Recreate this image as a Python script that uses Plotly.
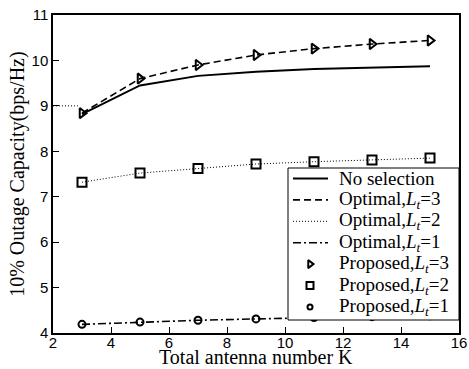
import plotly.graph_objects as go

K = [3, 5, 7, 9, 11, 13, 15]
no_selection = [8.82, 9.45, 9.66, 9.75, 9.81, 9.84, 9.87]
optimal_l3 = [8.84, 9.60, 9.90, 10.12, 10.26, 10.36, 10.44]
optimal_l2 = [7.32, 7.52, 7.62, 7.72, 7.77, 7.81, 7.85]
optimal_l1 = [4.19, 4.24, 4.28, 4.31, 4.34, 4.36, 4.38]
proposed_l3 = [8.84, 9.60, 9.90, 10.12, 10.26, 10.36, 10.44]
proposed_l2 = [7.32, 7.52, 7.62, 7.72, 7.77, 7.81, 7.85]
proposed_l1 = [4.19, 4.24, 4.28, 4.31, 4.34, 4.36, 4.38]
x_ticks = [2, 4, 6, 8, 10, 12, 14, 16]
y_ticks = [4, 5, 6, 7, 8, 9, 10, 11]
stray_x = [2, 2.92]
stray_y = [9, 9]
x_title = "Total antenna number K"
y_title = "10% Outage Capacity(bps/Hz)"
legend_labels = [
    "No selection",
    "Optimal,<i>L</i><sub><i>t</i></sub>=3",
    "Optimal,<i>L</i><sub><i>t</i></sub>=2",
    "Optimal,<i>L</i><sub><i>t</i></sub>=1",
    "Proposed,<i>L</i><sub><i>t</i></sub>=3",
    "Proposed,<i>L</i><sub><i>t</i></sub>=2",
    "Proposed,<i>L</i><sub><i>t</i></sub>=1",
]

serif = "Liberation Serif, Times New Roman, serif"
sans = "Liberation Sans, Arial, sans-serif"

solid = dict(color="black", width=2)
dashed = dict(color="black", width=1.6, dash="7px,4px")
dotted = dict(color="black", width=1, dash="1px,2px")
dashdot = dict(color="black", width=1.6, dash="8px,3px,2px,3px")
m3 = dict(symbol="triangle-right-open", size=9, color="black", line=dict(width=2, color="black"))
m2 = dict(symbol="square-open", size=9, color="black", line=dict(width=2, color="black"))
m1 = dict(symbol="circle-open", size=7, color="black", line=dict(width=2, color="black"))

fig = go.Figure()
fig.add_trace(go.Scatter(x=stray_x, y=stray_y, mode="lines", line=dotted))
fig.add_trace(go.Scatter(x=K, y=no_selection, mode="lines", line=solid))
fig.add_trace(go.Scatter(x=K, y=optimal_l3, mode="lines", line=dashed))
fig.add_trace(go.Scatter(x=K, y=optimal_l2, mode="lines", line=dotted))
fig.add_trace(go.Scatter(x=K, y=optimal_l1, mode="lines", line=dashdot))
fig.add_trace(go.Scatter(x=K, y=proposed_l3, mode="markers", marker=m3))
fig.add_trace(go.Scatter(x=K, y=proposed_l2, mode="markers", marker=m2))
fig.add_trace(go.Scatter(x=K, y=proposed_l1, mode="markers", marker=m1))

# ---- custom legend drawn on an overlay axis measured in plot-area pixels ----
W, H = 406, 318
box_l, box_r, box_t, box_b = 235, 406, 153, 305
row0, step = 163.5, 21.4
samp_l, samp_r, samp_c, text_x = 240, 275, 257, 284

fig.add_trace(go.Scatter(x=[box_l, box_r, box_r, box_l, box_l], y=[box_t, box_t, box_b, box_b, box_t],
                         mode="lines", fill="toself", fillcolor="white",
                         line=dict(color="black", width=1), xaxis="x2", yaxis="y2"))
line_styles = [solid, dashed, dotted, dashdot]
for i, ls in enumerate(line_styles):
    yy = row0 + i * step
    fig.add_trace(go.Scatter(x=[samp_l, samp_r], y=[yy, yy], mode="lines", line=ls,
                             xaxis="x2", yaxis="y2"))
for j, mk in enumerate([m3, m2, m1]):
    yy = row0 + (4 + j) * step
    mk_small = dict(mk)
    mk_small["size"] = mk["size"] - 2
    fig.add_trace(go.Scatter(x=[samp_c], y=[yy], mode="markers", marker=mk_small,
                             xaxis="x2", yaxis="y2"))
for i, lab in enumerate(legend_labels):
    fig.add_annotation(x=text_x, y=row0 + i * step, xref="x2", yref="y2", text=lab,
                       showarrow=False, xanchor="left", yanchor="middle",
                       font=dict(family=serif, size=19, color="black"))

# axis titles
fig.add_annotation(x=0.5, y=-0.077, xref="paper", yref="paper", text=x_title, showarrow=False,
                   xanchor="center", yanchor="middle", font=dict(family=serif, size=20, color="black"))
fig.add_annotation(x=-0.089, y=0.5, xref="paper", yref="paper", text=y_title, showarrow=False,
                   textangle=-90, xanchor="center", yanchor="middle",
                   font=dict(family=serif, size=20, color="black"))

axis_common = dict(showgrid=False, zeroline=False, showline=True, linecolor="black",
                   linewidth=1.5, mirror=True, ticks="inside", ticklen=6,
                   tickcolor="black", tickwidth=1, automargin=False,
                   tickfont=dict(family=sans, size=15, color="black"))

fig.update_layout(
    width=469, height=369,
    margin=dict(l=53, r=10, t=15, b=36),
    paper_bgcolor="white", plot_bgcolor="white",
    showlegend=False,
    xaxis=dict(range=[2, 16], tickvals=x_ticks, ticktext=[str(v) for v in x_ticks],
               ticklabelstandoff=-5, **axis_common),
    yaxis=dict(range=[4, 11], tickvals=y_ticks, ticktext=[str(v) for v in y_ticks], **axis_common),
    xaxis2=dict(range=[0, W], overlaying="x", anchor="y2", visible=False, fixedrange=True),
    yaxis2=dict(range=[H, 0], overlaying="y", anchor="x2", visible=False, fixedrange=True),
)

fig.write_html("out.html")
